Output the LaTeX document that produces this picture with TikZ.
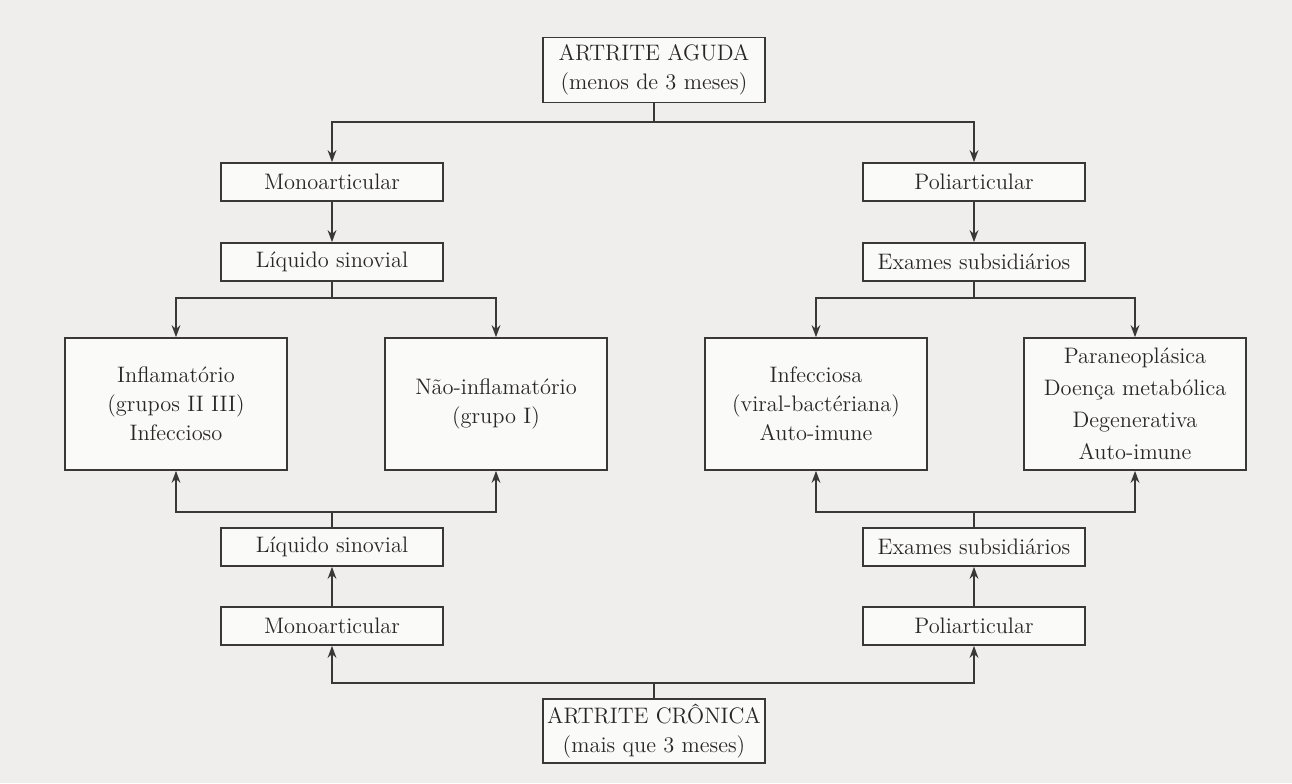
\documentclass[tikz,border=0pt]{standalone}
\usepackage{fontspec}
\usepackage{tikz}
\usetikzlibrary{positioning,arrows.meta}
\definecolor{pagegray}{HTML}{EFEEEC}
\definecolor{boxwhite}{HTML}{FAFAF8}
\definecolor{inkgray}{HTML}{3A3836}

\begin{document}
\begin{tikzpicture}[
    x=0.5pt, y=-0.5pt,
    box/.style={draw=inkgray, fill=boxwhite, line width=0.85pt, minimum width=111pt, minimum height=#1, align=center, inner sep=2pt, text=inkgray!70!black, font=\fontsize{11.2}{14.5}\selectfont},
    box/.default=19pt,
    arrow/.style={-{Stealth[length=6pt,width=4.4pt]}, line width=0.85pt, draw=inkgray},
    link/.style={line width=0.85pt, draw=inkgray},
]

% page
\fill[pagegray] (0,0) rectangle (1292,783);

% === Top: acute arthritis, mono/poli, first exams ===
\node[box=32.5pt] (aguda) at (654,70) {ARTRITE AGUDA\\(menos de 3 meses)};
\node[box] (monoA) at (332,182) {Monoarticular};
\node[box] (poliA) at (974,182) {Poliarticular};
\node[box] (liqA) at (332,262) {Líquido sinovial};
\node[box] (exaA) at (974,262) {Exames subsidiários};

% === Middle: diagnostic groups ===
\node[box=66pt] (inflam) at (176,404) {Inflamatório\\(grupos II III)\\Infeccioso};
\node[box=66pt] (naoinf) at (496,404) {Não-inflamatório\\(grupo I)};
\node[box=66pt] (infecc) at (816,404) {Infecciosa\\(viral-bactériana)\\Auto-imune};
\node[box=66pt, font=\fontsize{11.2}{16}\selectfont] (paraneo) at (1135,404) {Paraneoplásica\\Doença metabólica\\Degenerativa\\Auto-imune};

% === Bottom: chronic arthritis, mono/poli, exams ===
\node[box] (liqC) at (332,547) {Líquido sinovial};
\node[box] (exaC) at (974,547) {Exames subsidiários};
\node[box] (monoC) at (332,626) {Monoarticular};
\node[box] (poliC) at (974,626) {Poliarticular};
\node[box=32pt] (cronica) at (654,731) {ARTRITE CRÔNICA\\(mais que 3 meses)};

% split points
\coordinate (splitA) at (654,122);
\coordinate (splitL) at (332,298);
\coordinate (splitR) at (974,298);
\coordinate (joinL) at (332,512);
\coordinate (joinR) at (974,512);
\coordinate (joinC) at (654,683);

% downward branches
\draw[link] (aguda) -- (splitA);
\draw[arrow] (splitA) -| (monoA);
\draw[arrow] (splitA) -| (poliA);
\draw[arrow] (monoA) -- (liqA);
\draw[arrow] (poliA) -- (exaA);
\draw[link] (liqA) -- (splitL);
\draw[arrow] (splitL) -| (inflam);
\draw[arrow] (splitL) -| (naoinf);
\draw[link] (exaA) -- (splitR);
\draw[arrow] (splitR) -| (infecc);
\draw[arrow] (splitR) -| (paraneo);

% upward branches
\draw[link] (cronica) -- (joinC);
\draw[arrow] (joinC) -| (monoC);
\draw[arrow] (joinC) -| (poliC);
\draw[arrow] (monoC) -- (liqC);
\draw[arrow] (poliC) -- (exaC);
\draw[link] (liqC) -- (joinL);
\draw[arrow] (joinL) -| (inflam);
\draw[arrow] (joinL) -| (naoinf);
\draw[link] (exaC) -- (joinR);
\draw[arrow] (joinR) -| (infecc);
\draw[arrow] (joinR) -| (paraneo);

\end{tikzpicture}
\end{document}
